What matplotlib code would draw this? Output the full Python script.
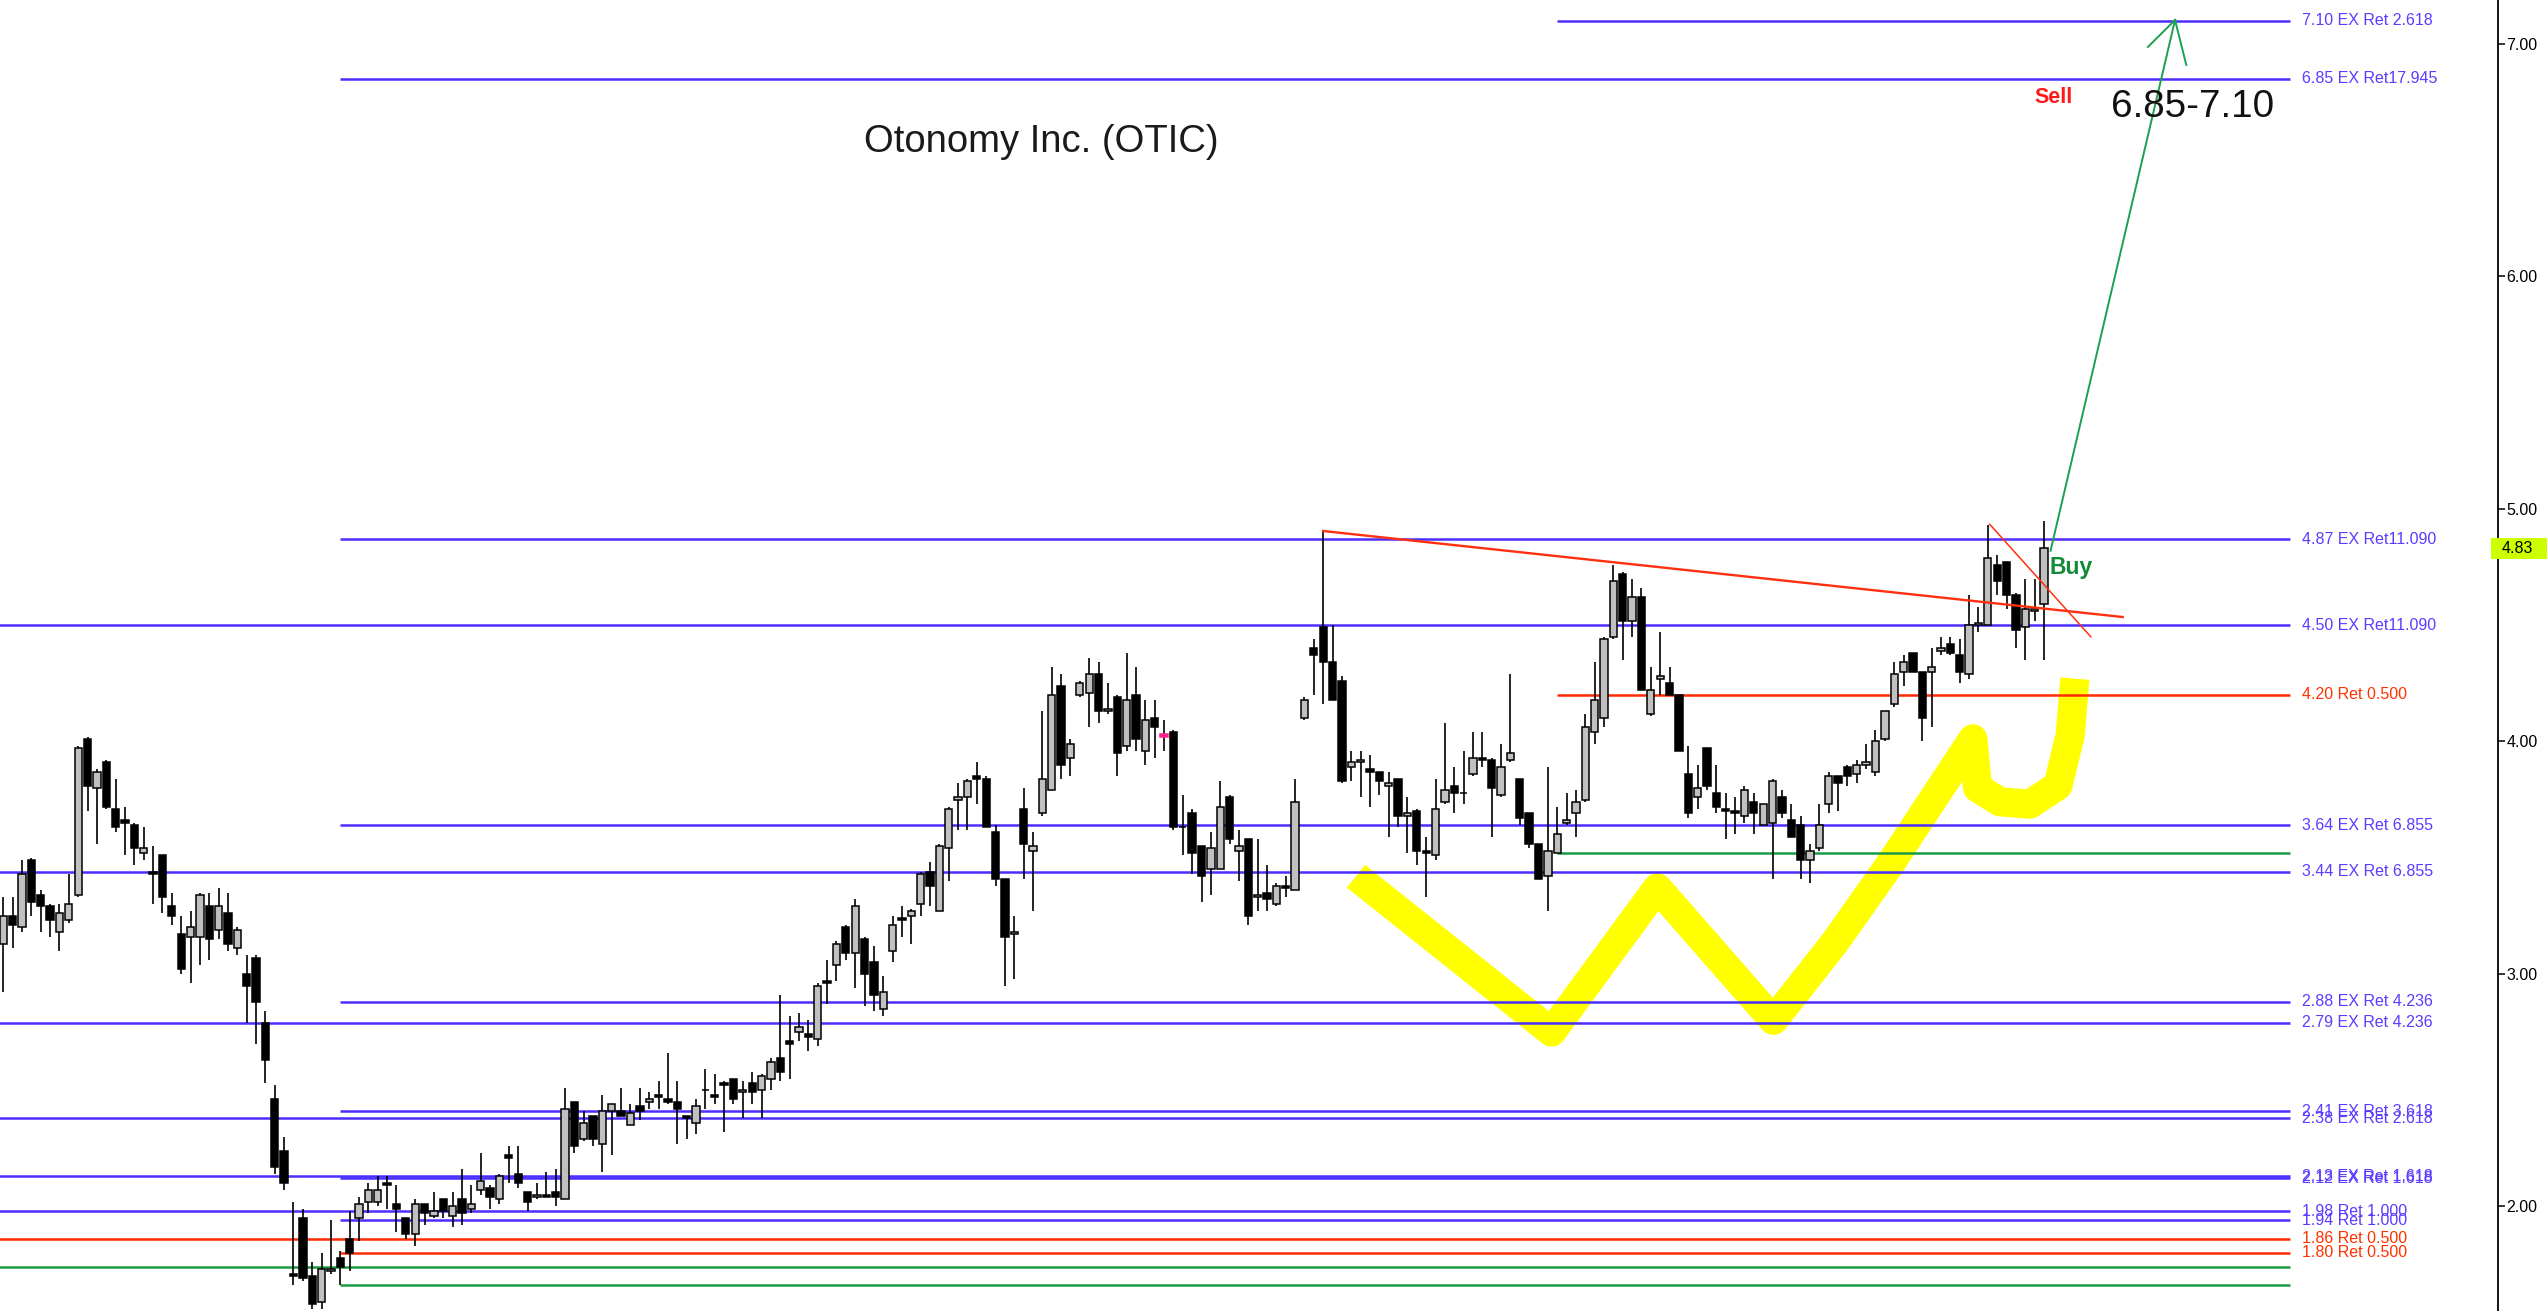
import matplotlib
matplotlib.use("Agg")
import matplotlib.pyplot as plt
import matplotlib.transforms as mtransforms
from matplotlib.patches import Rectangle
from matplotlib.ticker import FormatStrFormatter

# ---------------- candle data (daily OHLC) ----------------
opens = [3.13, 3.25, 3.20, 3.49, 3.34, 3.29, 3.18, 3.23, 3.34, 4.01,
         3.80, 3.91, 3.71, 3.66, 3.64, 3.52, 3.44, 3.51, 3.29, 3.17,
         3.16, 3.16, 3.29, 3.19, 3.26, 3.11, 3.00, 3.07, 2.79, 2.46,
         2.24, 1.71, 1.95, 1.70, 1.59, 1.72, 1.78, 1.86, 1.95, 2.02,
         2.02, 2.10, 2.01, 1.95, 1.88, 2.01, 1.96, 2.03, 1.96, 2.03,
         1.99, 2.07, 2.08, 2.03, 2.22, 2.14, 2.06, 2.04, 2.05, 2.06,
         2.03, 2.45, 2.29, 2.39, 2.27, 2.41, 2.41, 2.35, 2.43, 2.45,
         2.48, 2.46, 2.45, 2.39, 2.36, 2.50, 2.48, 2.53, 2.55, 2.49,
         2.53, 2.50, 2.55, 2.64, 2.71, 2.75, 2.74, 2.72, 2.97, 3.04,
         3.20, 3.09, 3.15, 3.05, 2.85, 3.10, 3.24, 3.25, 3.30, 3.44,
         3.27, 3.54, 3.75, 3.76, 3.85, 3.84, 3.61, 3.41, 3.17, 3.71,
         3.53, 3.69, 3.79, 4.24, 3.93, 4.20, 4.21, 4.29, 4.13, 4.19,
         3.98, 4.20, 3.96, 4.10, 4.02, 4.04, 3.63, 3.69, 3.55, 3.45,
         3.45, 3.76, 3.53, 3.58, 3.33, 3.35, 3.30, 3.38, 3.36, 4.10,
         4.40, 4.49, 4.34, 4.26, 3.89, 3.91, 3.88, 3.87, 3.81, 3.84,
         3.68, 3.70, 3.53, 3.51, 3.74, 3.81, 3.78, 3.86, 3.93, 3.92,
         3.77, 3.92, 3.84, 3.69, 3.56, 3.42, 3.52, 3.65, 3.69, 3.75,
         4.04, 4.10, 4.45, 4.72, 4.52, 4.62, 4.12, 4.27, 4.25, 4.20,
         3.86, 3.76, 3.97, 3.78, 3.71, 3.70, 3.68, 3.74, 3.64, 3.65,
         3.76, 3.66, 3.64, 3.49, 3.54, 3.73, 3.85, 3.89, 3.86, 3.90,
         3.87, 4.01, 4.16, 4.30, 4.38, 4.30, 4.30, 4.39, 4.42, 4.37,
         4.29, 4.50, 4.50, 4.76, 4.77, 4.63, 4.49, 4.56, 4.59]
highs = [3.33, 3.33, 3.49, 3.50, 3.36, 3.30, 3.30, 3.43, 3.98, 4.02,
         3.88, 3.92, 3.84, 3.72, 3.65, 3.63, 3.55, 3.51, 3.35, 3.25,
         3.27, 3.35, 3.35, 3.37, 3.35, 3.20, 3.08, 3.08, 2.84, 2.52,
         2.30, 2.02, 1.99, 1.76, 1.80, 1.94, 1.81, 1.98, 2.04, 2.10,
         2.13, 2.13, 2.09, 1.95, 2.03, 2.01, 2.06, 2.03, 2.06, 2.16,
         2.09, 2.23, 2.09, 2.14, 2.26, 2.26, 2.06, 2.10, 2.15, 2.16,
         2.51, 2.45, 2.41, 2.39, 2.48, 2.44, 2.51, 2.44, 2.51, 2.49,
         2.54, 2.66, 2.54, 2.39, 2.46, 2.59, 2.57, 2.54, 2.55, 2.54,
         2.58, 2.57, 2.64, 2.91, 2.82, 2.83, 2.80, 2.96, 3.06, 3.14,
         3.21, 3.32, 3.16, 3.12, 2.99, 3.25, 3.29, 3.28, 3.44, 3.48,
         3.56, 3.72, 3.82, 3.84, 3.91, 3.85, 3.64, 3.41, 3.25, 3.80,
         3.61, 4.13, 4.32, 4.29, 4.01, 4.26, 4.36, 4.34, 4.25, 4.20,
         4.38, 4.32, 4.18, 4.18, 4.09, 4.05, 3.77, 3.71, 3.55, 3.61,
         3.83, 3.77, 3.62, 3.58, 3.58, 3.47, 3.39, 3.42, 3.84, 4.19,
         4.44, 4.91, 4.50, 4.28, 3.96, 3.96, 3.94, 3.87, 3.87, 3.84,
         3.76, 3.71, 3.59, 3.84, 4.08, 3.89, 3.96, 4.04, 4.04, 3.93,
         3.99, 4.29, 3.84, 3.69, 3.56, 3.89, 3.72, 3.78, 3.79, 4.12,
         4.34, 4.45, 4.76, 4.73, 4.70, 4.66, 4.32, 4.47, 4.32, 4.20,
         3.98, 3.90, 3.97, 3.90, 3.78, 3.76, 3.81, 3.78, 3.73, 3.84,
         3.79, 3.73, 3.68, 3.56, 3.73, 3.87, 3.85, 3.90, 3.92, 3.99,
         4.05, 4.13, 4.34, 4.37, 4.38, 4.30, 4.40, 4.45, 4.45, 4.44,
         4.63, 4.58, 4.93, 4.80, 4.77, 4.64, 4.70, 4.70, 4.95]
lows = [2.92, 3.11, 3.18, 3.25, 3.18, 3.16, 3.10, 3.22, 3.33, 3.70,
        3.56, 3.71, 3.61, 3.51, 3.47, 3.49, 3.30, 3.26, 3.21, 3.00,
        2.96, 3.04, 3.06, 3.15, 3.10, 3.08, 2.79, 2.70, 2.53, 2.14,
        2.07, 1.66, 1.68, 1.56, 1.56, 1.71, 1.66, 1.72, 1.85, 1.97,
        2.00, 1.99, 1.89, 1.86, 1.83, 1.92, 1.95, 1.95, 1.91, 1.92,
        1.97, 2.05, 1.99, 2.01, 2.10, 2.08, 1.98, 2.03, 2.04, 2.00,
        2.03, 2.23, 2.28, 2.26, 2.15, 2.22, 2.39, 2.35, 2.37, 2.42,
        2.42, 2.44, 2.27, 2.29, 2.31, 2.42, 2.44, 2.32, 2.44, 2.38,
        2.44, 2.38, 2.50, 2.54, 2.55, 2.71, 2.67, 2.69, 2.87, 2.97,
        3.06, 2.94, 2.86, 2.84, 2.82, 3.05, 3.16, 3.13, 3.25, 3.29,
        3.27, 3.40, 3.62, 3.62, 3.73, 3.63, 3.38, 2.95, 2.98, 3.41,
        3.27, 3.68, 3.79, 3.84, 3.85, 4.19, 4.06, 4.08, 4.12, 3.85,
        3.96, 3.96, 3.90, 3.93, 3.96, 3.62, 3.51, 3.43, 3.31, 3.34,
        3.45, 3.56, 3.40, 3.21, 3.27, 3.27, 3.29, 3.33, 3.36, 4.09,
        4.20, 4.16, 4.18, 3.82, 3.83, 3.76, 3.72, 3.77, 3.59, 3.63,
        3.52, 3.47, 3.33, 3.49, 3.73, 3.69, 3.73, 3.85, 3.89, 3.59,
        3.76, 3.91, 3.64, 3.54, 3.41, 3.27, 3.52, 3.64, 3.59, 3.74,
        3.99, 4.06, 4.44, 4.35, 4.45, 4.22, 4.11, 4.20, 4.20, 3.96,
        3.67, 3.71, 3.79, 3.69, 3.58, 3.60, 3.65, 3.60, 3.64, 3.41,
        3.67, 3.59, 3.41, 3.39, 3.53, 3.69, 3.70, 3.81, 3.82, 3.88,
        3.85, 4.00, 4.15, 4.24, 4.30, 4.00, 4.06, 4.37, 4.37, 4.25,
        4.27, 4.47, 4.50, 4.63, 4.57, 4.40, 4.35, 4.52, 4.35]
closes = [3.25, 3.21, 3.43, 3.31, 3.29, 3.23, 3.26, 3.30, 3.97, 3.81,
          3.87, 3.72, 3.63, 3.65, 3.54, 3.54, 3.43, 3.33, 3.25, 3.02,
          3.20, 3.34, 3.15, 3.29, 3.13, 3.19, 2.95, 2.88, 2.63, 2.17,
          2.10, 1.70, 1.69, 1.58, 1.73, 1.73, 1.74, 1.80, 2.01, 2.07,
          2.07, 2.09, 1.99, 1.88, 2.01, 1.97, 1.98, 1.98, 2.00, 1.97,
          2.01, 2.11, 2.04, 2.13, 2.21, 2.10, 2.02, 2.05, 2.04, 2.04,
          2.42, 2.26, 2.36, 2.29, 2.41, 2.44, 2.39, 2.40, 2.41, 2.46,
          2.47, 2.45, 2.42, 2.38, 2.43, 2.50, 2.47, 2.52, 2.46, 2.50,
          2.49, 2.56, 2.62, 2.58, 2.70, 2.77, 2.73, 2.95, 2.96, 3.13,
          3.09, 3.29, 3.00, 2.91, 2.92, 3.21, 3.23, 3.27, 3.43, 3.38,
          3.55, 3.71, 3.76, 3.83, 3.84, 3.63, 3.41, 3.16, 3.18, 3.56,
          3.55, 3.84, 4.20, 3.90, 3.99, 4.25, 4.29, 4.13, 4.14, 3.95,
          4.18, 4.01, 4.09, 4.06, 4.03, 3.63, 3.63, 3.52, 3.42, 3.54,
          3.72, 3.58, 3.55, 3.25, 3.34, 3.32, 3.38, 3.37, 3.74, 4.18,
          4.37, 4.34, 4.18, 3.83, 3.91, 3.92, 3.87, 3.83, 3.82, 3.68,
          3.69, 3.53, 3.52, 3.71, 3.79, 3.78, 3.78, 3.93, 3.92, 3.80,
          3.89, 3.95, 3.67, 3.56, 3.41, 3.53, 3.60, 3.66, 3.74, 4.06,
          4.18, 4.44, 4.69, 4.52, 4.62, 4.22, 4.22, 4.28, 4.20, 3.96,
          3.69, 3.80, 3.81, 3.72, 3.70, 3.69, 3.79, 3.69, 3.73, 3.83,
          3.69, 3.59, 3.49, 3.53, 3.64, 3.85, 3.82, 3.85, 3.90, 3.91,
          4.00, 4.13, 4.29, 4.34, 4.30, 4.10, 4.32, 4.40, 4.38, 4.30,
          4.50, 4.51, 4.79, 4.69, 4.63, 4.48, 4.57, 4.57, 4.83]
marked_candles = [124]
last_price = 4.83

# ---------------- horizontal Fibonacci levels ----------------
level_prices = [7.10, 6.85, 4.87, 4.50, 4.20, 3.64, 3.52, 3.44, 2.88, 2.79,
                2.41, 2.38, 2.13, 2.12, 1.98, 1.94, 1.86, 1.80, 1.74, 1.66]
level_labels = ["7.10 EX Ret 2.618", "6.85 EX Ret17.945", "4.87 EX Ret11.090",
                "4.50 EX Ret11.090", "4.20 Ret 0.500", "3.64 EX Ret 6.855", "",
                "3.44 EX Ret 6.855", "2.88 EX Ret 4.236", "2.79 EX Ret 4.236",
                "2.41 EX Ret 3.618", "2.38 EX Ret 2.618", "2.13 EX Ret 1.618",
                "2.12 EX Ret 1.618", "1.98 Ret 1.000", "1.94 Ret 1.000",
                "1.86 Ret 0.500", "1.80 Ret 0.500", "", ""]
level_kind = ["ext", "ext", "ext", "ext", "half", "ext", "base", "ext", "ext", "ext",
              "ext", "ext", "ext", "ext", "ext", "ext", "half", "half", "base", "base"]
level_start = [166, 36, 36, -10, 166, 36, 166, -10, 36, -10,
               36, -10, -10, 36, -10, 36, -10, 36, -10, 36]
level_end = 244.3
label_x = 245.6

# ---------------- drawn annotations ----------------
trend_x = [141.0, 226.4]
trend_y = [4.905, 4.535]
flag_x = [212.2, 223.0]
flag_y = [4.934, 4.45]
arrow_x = [218.7, 232.0]
arrow_y = [4.82, 7.103]
head_left = ([229.1, 232.0], [6.987, 7.103])
head_right = ([233.2, 232.0], [6.91, 7.103])
w_path_x = [144.5, 165.4, 176.7, 189.1, 195.7, 201.8, 210.4, 210.9, 213.3, 216.5, 219.5, 220.8, 221.3]
w_path_y = [3.42, 2.75, 3.37, 2.80, 3.138, 3.486, 4.011, 3.80, 3.74, 3.73, 3.81, 4.028, 4.27]

# ---------------- figure ----------------
W, H = 2547, 1311
fig = plt.figure(figsize=(W / 100, H / 100), dpi=100)
fig.patch.set_facecolor("white")
ax = fig.add_axes([0, 0, 2498 / W, 1])
ax.set_facecolor("white")
ax.set_xlim(-0.353, 266.5)
ax.set_ylim(1.550, 7.189)

BLUE = "#4a2dff"
BLUE_TXT = "#5b3cff"
RED = "#ff2a00"
GREEN = "#1a9a45"
kind_color = {"ext": BLUE, "half": RED, "base": GREEN}
kind_txt = {"ext": BLUE_TXT, "half": "#ff3300", "base": GREEN}
FONT = "Liberation Sans"

# yellow highlight (under everything else)
ax.plot(w_path_x, w_path_y, color="#ffff00", lw=21, solid_capstyle="butt",
        solid_joinstyle="round", zorder=1)

for p, lab, k, s in zip(level_prices, level_labels, level_kind, level_start):
    ax.plot([s, level_end], [p, p], color=kind_color[k], lw=1.8, zorder=2,
            solid_capstyle="butt")
    if lab:
        ax.text(label_x, p, lab, color=kind_txt[k], fontsize=11.5, family=FONT,
                va="center", ha="left", zorder=5)

# candles
idx = list(range(len(opens)))
up = [c >= o for o, c in zip(opens, closes)]
ax.vlines(idx, lows, highs, color="black", lw=1.2, zorder=3)
bottoms = [min(o, c) for o, c in zip(opens, closes)]
heights = [abs(c - o) for o, c in zip(opens, closes)]
faces = []
for i, u in enumerate(up):
    if i in marked_candles:
        faces.append("#ff1f8f")
    else:
        faces.append("#c0c0c0" if u else "black")
edges = ["#ff1f8f" if i in marked_candles else "black" for i in idx]
ax.bar(idx, heights, bottom=bottoms, width=0.78, color=faces, edgecolor=edges,
       linewidth=1.1, zorder=4)

# trend lines
ax.plot(trend_x, trend_y, color="#ff3010", lw=1.7, zorder=5)
ax.plot(flag_x, flag_y, color="#ff3010", lw=1.1, zorder=5)

# green target arrow
ax.plot(arrow_x, arrow_y, color="#1aa050", lw=1.4, zorder=6)
ax.plot(*head_left, color="#1aa050", lw=1.4, zorder=6)
ax.plot(*head_right, color="#1aa050", lw=1.4, zorder=6)

# texts
ax.text(110.9, 6.58, "Otonomy Inc. (OTIC)", fontsize=27.5, family=FONT,
        color="#1a1a1a", ha="center", va="center", zorder=7)
ax.text(233.9, 6.73, "6.85-7.10", fontsize=27.8, family=FONT,
        color="#111111", ha="center", va="center", zorder=7)
ax.text(219.0, 6.77, "Sell", fontsize=15.5, family=FONT, weight="bold",
        color="#ff1a1a", ha="center", va="center", zorder=7)
ax.text(220.9, 4.75, "Buy", fontsize=16.5, family=FONT, weight="bold",
        color="#138a3a", ha="center", va="center", zorder=7)

# right price axis
for sp in ["top", "left", "bottom"]:
    ax.spines[sp].set_visible(False)
ax.spines["right"].set_color("black")
ax.spines["right"].set_linewidth(1.3)
ax.yaxis.tick_right()
ax.set_yticks([2, 3, 4, 5, 6, 7])
ax.yaxis.set_major_formatter(FormatStrFormatter("%.2f"))
ax.tick_params(axis="y", direction="out", length=5, width=1.1, pad=1,
               labelsize=11.5, colors="black")
for t in ax.get_yticklabels():
    t.set_family(FONT)
ax.set_xticks([])

# last price marker
trans = mtransforms.blended_transform_factory(ax.transAxes, ax.transData)
ax.add_patch(Rectangle((0.9972, last_price - 0.047), 0.03, 0.094, transform=trans,
                       facecolor="#ccff00", edgecolor="none", clip_on=False, zorder=8))
ax.text(1.0015, last_price, f"{last_price:.2f}", transform=trans, fontsize=11.5,
        family=FONT, va="center", ha="left", color="black", clip_on=False, zorder=9)

fig.savefig("out.png", dpi=100, facecolor="white")
